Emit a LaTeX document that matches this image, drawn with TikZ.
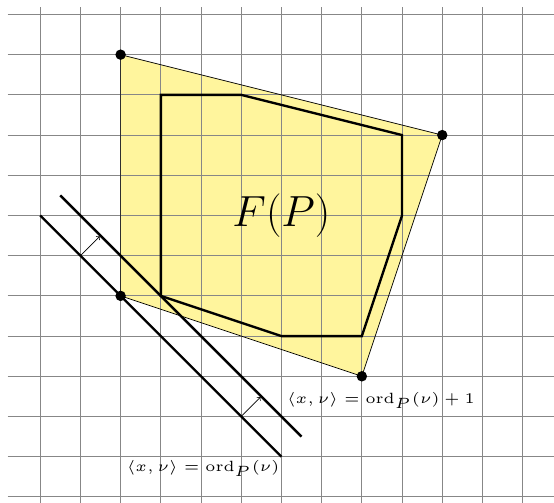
\documentclass[tikz,border=0pt]{standalone}
\usepackage{amsmath}
\usepackage{tikz}
\usetikzlibrary{positioning}
\definecolor{polyfill}{RGB}{255,245,157}
\definecolor{gridgray}{RGB}{135,135,135}
\tikzset{
  gridline/.style={draw=gridgray, line width=0.6pt},
  outline/.style={draw=black, line width=0.5pt},
  vertex/.style={circle, fill=black, inner sep=0pt, minimum size=2.6mm},
  facet/.style={draw=black, line width=1.7pt},
  hyper/.style={draw=black, line width=1.7pt},
  normalarr/.style={->, line width=0.5pt},
  eqlabel/.style={font=\tiny, scale=2.1, inner sep=0pt},
}

\begin{document}
\begin{tikzpicture}
  \useasboundingbox (0,-0.15) rectangle (13.78,12.36);
  \clip (0,-0.15) rectangle (13.78,12.36);

  % corners of the polytope
  \coordinate (a) at (3,11);
  \coordinate (b) at (11,9);
  \coordinate (d) at (9,3);
  \coordinate (c) at (3,5);

  \fill[polyfill] (a) -- (b) -- (d) -- (c) -- cycle;
  \draw[gridline] (0.19,-1) grid (14,12.19);
  \draw[outline] (a) -- (b) -- (d) -- (c) -- cycle;

  % inner polygon
  \draw[facet] (4,10) -- (6,10) -- (10,9) -- (10,7) -- (9,4) -- (7,4) -- (4,5) -- cycle;
  \node[font=\Huge, scale=1.24] (fp) at (7,7) {$F(P)$};

  % supporting lines
  \coordinate (h0s) at (1,7);
  \coordinate (h0e) at (7,1);
  \coordinate (h1s) at (1.5,7.5);
  \coordinate (h1e) at (7.5,1.5);
  \draw[hyper] (h0s) -- (h0e);
  \draw[hyper] (h1s) -- (h1e);

  \coordinate (n1s) at (2,6);
  \coordinate (n1e) at (2.48,6.48);
  \coordinate (n2s) at (6,2);
  \coordinate (n2e) at (6.48,2.48);
  \draw[normalarr] (n1s) -- (n1e);
  \draw[normalarr] (n2s) -- (n2e);

  \node[eqlabel] (lab0) at (5.05,0.72) {$\langle x,\nu\rangle=\operatorname{ord}_P(\nu)$};
  \node[eqlabel] (lab1) at (9.47,2.39) {$\langle x,\nu\rangle=\operatorname{ord}_P(\nu)+1$};

  \foreach \v in {a,b,c,d}
    \node[vertex] (dot\v) at (\v) {};
\end{tikzpicture}
\end{document}
